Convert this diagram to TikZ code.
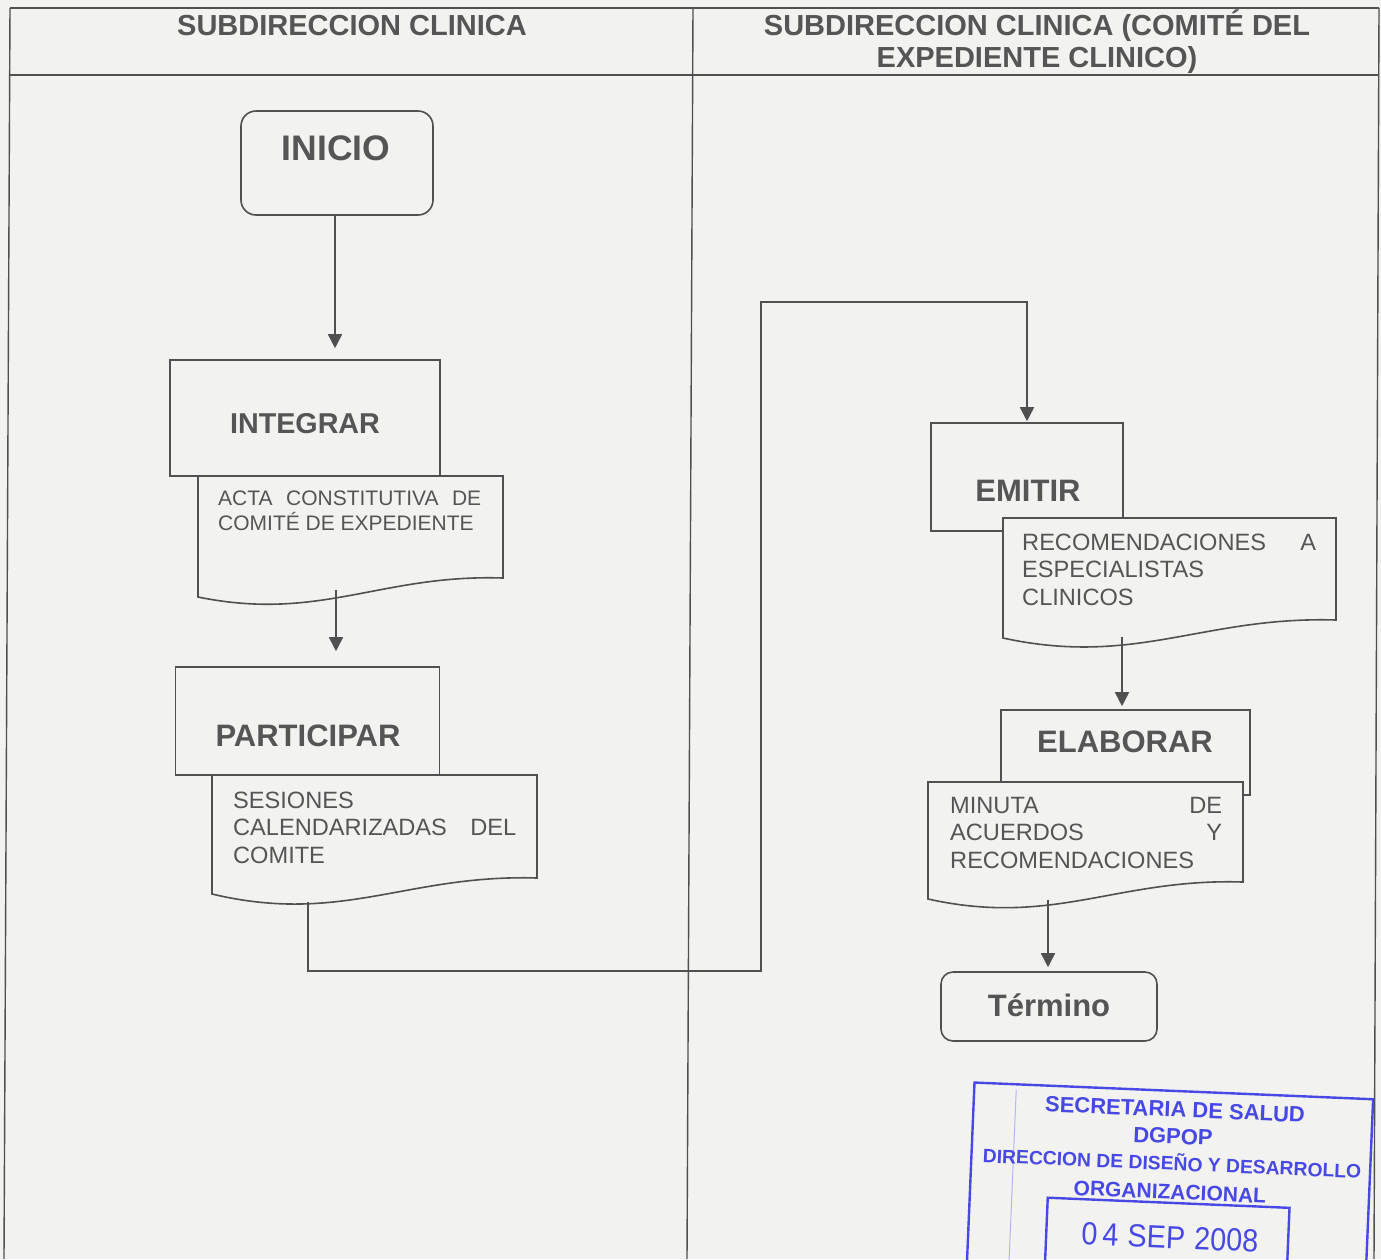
\documentclass[tikz,border=0pt]{standalone}
\usepackage{fontspec}
\setmainfont{Liberation Sans}
\newfontfamily\stampfont{Liberation Sans}[FakeStretch=0.9]
\usetikzlibrary{arrows.meta}
\definecolor{bg}{HTML}{F2F2F0}
\definecolor{ink}{HTML}{505050}
\definecolor{txt}{HTML}{555555}
\definecolor{stampblue}{RGB}{72,72,228}
\begin{document}
\begin{tikzpicture}[x=1pt,y=-1pt,
  ln/.style={draw=ink,line width=1.6pt},
  procbox/.style={ln, fill=bg, inner sep=0pt},
  startbox/.style={ln, fill=bg, inner sep=0pt},
  bigtxt/.style={text=txt, font=\bfseries\fontsize{31}{31}\selectfont, inner sep=0pt, anchor=base},
  smalltxt/.style={text=txt, font=\fontsize{23.6}{27.5}\selectfont, align=left, inner sep=0pt, anchor=north west},
  hdr/.style={text=txt, font=\bfseries\fontsize{29}{32}\selectfont, align=center, inner sep=0pt},
  arr/.style={draw=ink, line width=1.6pt, -{Triangle[width=14pt,length=14pt]}},
  docshape/.style={ln, fill=bg},
  tableline/.style={draw=ink, line width=1.4pt},
  stampline/.style={draw=stampblue, line width=2.4pt},
  stamptxt/.style={text=stampblue, font=\bfseries\fontsize{22}{22}\selectfont, inner sep=0pt, anchor=base, transform shape},
]
\useasboundingbox (0,0) rectangle (1381,1259);
\fill[bg] (0,0) rectangle (1381,1259);
\clip (0,0) rectangle (1381,1259);

% table
\draw[tableline] (10,8) -- (1379,8);
\draw[tableline] (10,75) -- (1379,75);
\draw[tableline] (10,8) -- (4,1259);
\draw[tableline] (693,8) -- (687,1259);
\draw[tableline] (1379,8) -- (1374,1259);
\node[hdr, anchor=base] (hleft) at (352,35.4) {SUBDIRECCION CLINICA};
\node[hdr, anchor=north] (hright) at (1037,10) {SUBDIRECCION CLINICA (COMITÉ DEL\\EXPEDIENTE CLINICO)};

% INICIO
\node[startbox, rounded corners=15pt, minimum width=192pt, minimum height=104pt] (inicio) at (337,163) {};
\node[bigtxt, font=\bfseries\fontsize{35.5}{35.5}\selectfont] (inicioT) at (336,160.9) {INICIO};

% INTEGRAR
\node[procbox, minimum width=270pt, minimum height=116pt] (integrar) at (305,418) {};
\node[bigtxt, font=\bfseries\fontsize{28.7}{28.7}\selectfont] (integrarT) at (305,433.4) {INTEGRAR};
\draw[docshape] (198,476) -- (503,476) -- (503,578) .. controls (381,574) and (320,622) .. (198,597) -- cycle;
\node[smalltxt, font=\fontsize{21}{25}\selectfont] (acta) at (218,490.5)
  {\makebox[263pt][s]{ACTA CONSTITUTIVA DE}\\COMITÉ DE EXPEDIENTE};
\coordinate (intDocB) at (336,590);

% PARTICIPAR
\node[procbox, minimum width=264pt, minimum height=108pt] (participar) at (307.5,721) {};
\node[bigtxt] (participarT) at (308,746.1) {PARTICIPAR};
\draw[docshape] (212,775) -- (537,775) -- (537,878) .. controls (407,874) and (342,925) .. (212,894) -- cycle;
\node[smalltxt] (sesiones) at (233,791.6)
  {SESIONES\\\makebox[283pt][s]{CALENDARIZADAS DEL}\\COMITE};
\coordinate (partDocB) at (308,902);

% EMITIR
\node[procbox, minimum width=192pt, minimum height=108pt] (emitir) at (1027,477) {};
\node[bigtxt] (emitirT) at (1028,501.1) {EMITIR};
\draw[docshape] (1003,518) -- (1336,518) -- (1336,620) .. controls (1203,616) and (1136,667) .. (1003,638) -- cycle;
\node[smalltxt] (recom) at (1022,533.6)
  {\makebox[294pt][s]{RECOMENDACIONES A}\\ESPECIALISTAS\\CLINICOS};
\coordinate (emiDocB) at (1122,637);

% ELABORAR
\node[procbox, minimum width=249pt, minimum height=85pt] (elaborar) at (1125.5,752.5) {};
\node[bigtxt] (elaborarT) at (1125,752.1) {ELABORAR};
\draw[docshape] (928,782) -- (1243,782) -- (1243,882) .. controls (1117,878) and (1054,927) .. (928,899) -- cycle;
\node[smalltxt] (minuta) at (950,796.6)
  {\makebox[272pt][s]{MINUTA DE}\\\makebox[272pt][s]{ACUERDOS Y}\\RECOMENDACIONES};
\coordinate (elaDocB) at (1048,900);

% TERMINO
\node[startbox, rounded corners=12pt, minimum width=216pt, minimum height=69pt] (termino) at (1049,1006.5) {};
\node[bigtxt] (terminoT) at (1049,1016.1) {Término};

% connectors
\draw[arr, shorten >=11pt] (inicio.south -| 335,0) -- (integrar.north -| 335,0);
\draw[arr, shorten >=15pt] (intDocB) -- (participar.north -| intDocB);
\coordinate (c1) at (761,971);
\coordinate (c2) at (1027,302);
\draw[arr, shorten >=1pt] (partDocB) |- (c1) |- (c2) -- (emitir.north);
\draw[arr, shorten >=3pt] (emiDocB) -- (elaborar.north -| emiDocB);
\draw[arr, shorten >=4pt] (elaDocB) -- (termino.north -| elaDocB);

% stamp
\begin{scope}[rotate around={-2.4:(1175,1170)}]
  \draw[stampline] (971,1340) -- (971,1091) -- (1370,1091) -- (1370,1340);
  \draw[draw=stampblue!40, line width=1pt] (1013,1096) -- (1013,1340);
  \draw[stampline] (1049,1340) -- (1049,1203) -- (1291,1203) -- (1291,1340);
  \node[stamptxt] (st1) at (1172.5,1117) {SECRETARIA DE SALUD};
  \node[stamptxt] (st2) at (1171.6,1144) {DGPOP};
  \node[stamptxt, font=\bfseries\fontsize{19.3}{19.3}\selectfont] (st3) at (1171.8,1170.5) {DIRECCION DE DISEÑO Y DESARROLLO};
  \node[stamptxt, font=\bfseries\fontsize{21}{21}\selectfont] (st4) at (1170.8,1199.5) {ORGANIZACIONAL};
  \node[stamptxt, font=\stampfont\fontsize{32}{32}\selectfont] (st5) at (1172.8,1248.5) {0\hspace{5pt}4\hspace{9pt}SEP\hspace{9pt}2008};
\end{scope}
\end{tikzpicture}
\end{document}
